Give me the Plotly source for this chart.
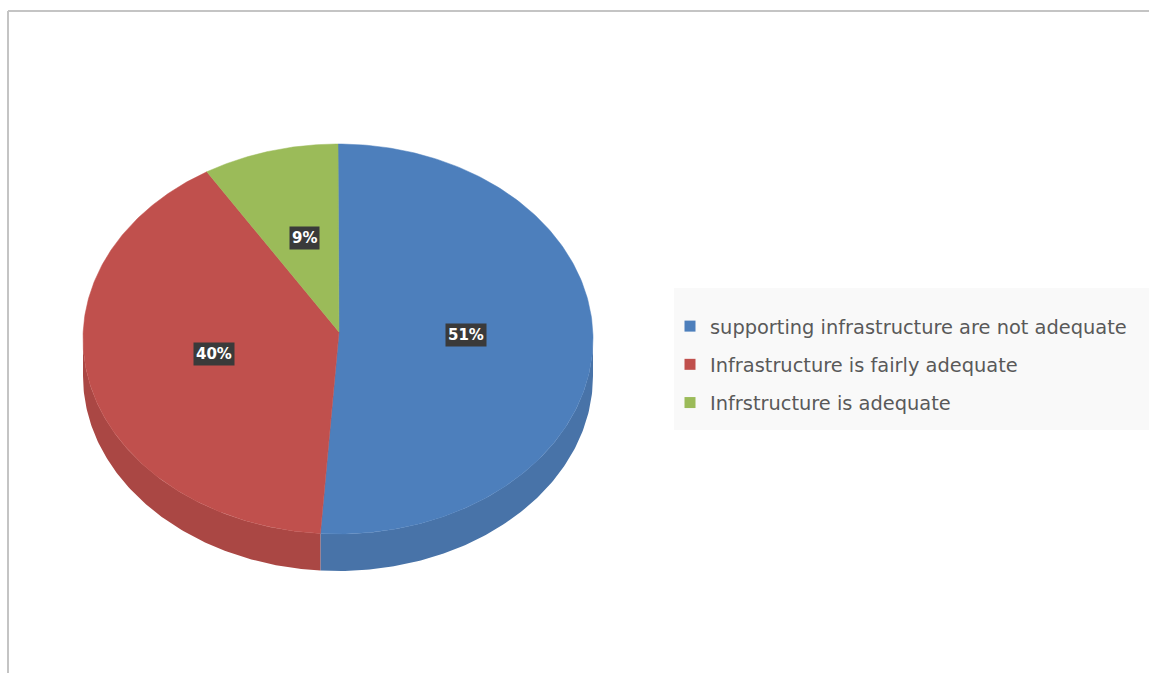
import numpy as np
import plotly.graph_objects as go

categories = ["supporting infrastructure are not adequate",
              "Infrastructure is fairly adequate",
              "Infrstructure is adequate"]
values = [51.1, 40.3, 8.6]
value_labels = ["51%", "40%", "9%"]
top_colors = ["#4d7fbc", "#c0504d", "#9bbb59"]
side_colors = ["#4873a8", "#aa4744", "#8aa64f"]

W, H = 1149, 673
CX, CY, RX, RY, DEPTH = 338, 339, 255, 195, 37
APEX_X, APEX_Y = 339, 332
LABEL_POS = [(466, 335), (214, 354), (304, 238)]


def ell(theta):
    return CX + RX * np.sin(theta), CY - RY * np.cos(theta)


fig = go.Figure()
total = sum(values)
edges = np.cumsum([0] + values) / total * 2 * np.pi

# side wall (only the front half of the ellipse is visible)
for i in range(len(values)):
    a, b = max(edges[i], np.pi / 2), min(edges[i + 1], 3 * np.pi / 2)
    if b <= a:
        continue
    t = np.linspace(a, b, 120)
    x, y = ell(t)
    fig.add_trace(go.Scatter(
        x=np.r_[x, x[::-1]], y=np.r_[y, y[::-1] + DEPTH],
        mode="lines", fill="toself", fillcolor=side_colors[i],
        line=dict(width=0, color=side_colors[i]), showlegend=False, hoverinfo="skip"))

# top face
for i in range(len(values)):
    t = np.linspace(edges[i], edges[i + 1], 200)
    x, y = ell(t)
    fig.add_trace(go.Scatter(
        x=np.r_[APEX_X, x, APEX_X], y=np.r_[APEX_Y, y, APEX_Y],
        mode="lines", fill="toself", fillcolor=top_colors[i],
        line=dict(width=0.5, color=top_colors[i]), showlegend=False,
        name=categories[i], hoverinfo="name"))

# legend entries
for i, c in enumerate(categories):
    fig.add_trace(go.Scatter(
        x=[None], y=[None], mode="markers", name=c, legendgroup=c,
        marker=dict(symbol="square", size=11, color=top_colors[i])))

for (px, py), txt in zip(LABEL_POS, value_labels):
    fig.add_annotation(x=px, y=py, text=f"<b>{txt}</b>", showarrow=False,
                       bgcolor="#3a3a3a", borderpad=2,
                       font=dict(family="DejaVu Sans", size=15, color="white"))

fig.update_layout(
    width=W, height=H, autosize=False,
    margin=dict(l=0, r=0, t=0, b=0),
    paper_bgcolor="white", plot_bgcolor="white",
    xaxis=dict(range=[0, W], visible=False, fixedrange=True),
    yaxis=dict(range=[H, 0], visible=False, fixedrange=True),
    shapes=[
        dict(type="rect", x0=674, x1=W, y0=288, y1=430, fillcolor="#f9f9f9",
             line=dict(width=0), layer="below"),
        dict(type="line", x0=8, x1=W, y0=11, y1=11, line=dict(color="#c4c4c4", width=2)),
        dict(type="line", x0=8, x1=8, y0=11, y1=H, line=dict(color="#c4c4c4", width=2)),
    ],
    legend=dict(x=670 / W, y=1 - 307 / H, xanchor="left", yanchor="top",
                bgcolor="rgba(0,0,0,0)", tracegroupgap=10, itemwidth=30,
                font=dict(family="DejaVu Sans", size=19.4, color="#595959")),
)
fig.write_html("out.html", config={"displayModeBar": False},
               post_script="document.body.style.margin='0';document.body.style.overflow='hidden';")
